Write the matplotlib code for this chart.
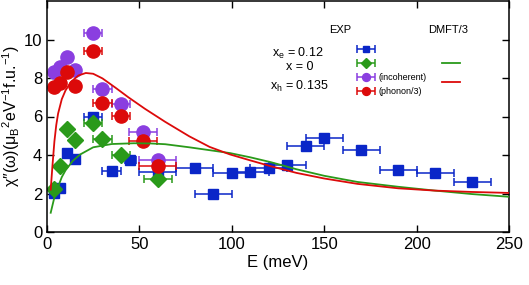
import matplotlib
matplotlib.use("Agg")
import matplotlib.pyplot as plt
import numpy as np
from matplotlib.legend_handler import HandlerErrorbar

plt.rcParams['font.family'] = ['Liberation Sans', 'DejaVu Sans']
plt.rcParams['mathtext.fontset'] = 'custom'
plt.rcParams['mathtext.rm'] = 'Liberation Sans'
plt.rcParams['mathtext.it'] = 'Liberation Sans:italic'

# EXP x_e = 0.12 (blue squares)
blue_x = [4, 7, 11, 15, 25, 35, 45, 60, 80, 90, 100, 110, 120, 130, 140, 150, 170, 190, 210, 230]
blue_y = [2.05, 2.3, 4.1, 3.8, 5.95, 3.15, 3.75, 3.1, 3.35, 2.0, 3.05, 3.1, 3.35, 3.5, 4.45, 4.9, 4.25, 3.2, 3.05, 2.62]
blue_xerr = [0, 0, 0, 0, 5, 5, 3, 10, 10, 10, 10, 10, 10, 10, 10, 10, 10, 10, 10, 10]

# EXP x = 0 (green diamonds)
green_x = [4, 7, 11, 15, 25, 30, 40, 60]
green_y = [2.25, 3.45, 5.35, 4.8, 5.65, 4.85, 4.0, 2.75]
green_xerr = [0, 0, 0, 0, 5, 5, 5, 7.5]

# EXP incoherent (purple circles)
purple_x = [4, 7, 11, 15, 25, 30, 40, 52, 60]
purple_y = [8.3, 8.55, 9.1, 8.4, 10.35, 7.45, 6.65, 5.2, 3.75]
purple_xerr = [0, 0, 0, 0, 5, 5, 5, 7.5, 10]

# EXP phonon/3 (red circles)
red_x = [4, 7, 11, 15, 25, 30, 40, 52, 60]
red_y = [7.55, 7.75, 8.3, 7.6, 9.4, 6.7, 6.05, 4.75, 3.45]
red_xerr = [0, 0, 0, 0, 5, 5, 5, 7.5, 10]

# DMFT/3 curves
dmft_red_x = [2, 3, 4, 5, 6, 8, 10, 13, 17, 21, 25, 30, 37, 44, 53, 64, 77, 88, 99, 110, 121, 135, 150, 168, 190, 210, 230, 250]
dmft_red_y = [2.2, 3.5, 4.7, 5.55, 6.15, 6.9, 7.35, 7.8, 8.13, 8.26, 8.22, 7.98, 7.5, 7.0, 6.4, 5.72, 4.97, 4.42, 4.03, 3.72, 3.42, 3.07, 2.78, 2.5, 2.27, 2.15, 2.08, 2.03]
dmft_green_x = [2, 4, 6, 8, 10, 14, 18, 25, 35, 47, 56, 64, 77, 88, 99, 110, 121, 135, 150, 168, 190, 210, 230, 250]
dmft_green_y = [1.0, 1.8, 2.35, 2.85, 3.2, 3.7, 4.03, 4.4, 4.57, 4.61, 4.6, 4.56, 4.4, 4.25, 4.1, 3.88, 3.63, 3.26, 2.92, 2.6, 2.35, 2.15, 1.97, 1.83]

C_BLUE = '#0a26c8'
C_GREEN = '#2a9a1a'
C_PURPLE = '#8a3ee0'
C_RED = '#dc0a0a'

fig = plt.figure(figsize=(5.29, 2.85), dpi=100)
ax = fig.add_axes([47/529, 1-232/285, (509-47)/529, 231/285])

kw = dict(linestyle='none', capsize=3, elinewidth=1.1, capthick=1.1)
eb_b = ax.errorbar(blue_x, blue_y, xerr=blue_xerr, fmt='s', color=C_BLUE, ms=7, **kw)
eb_g = ax.errorbar(green_x, green_y, xerr=green_xerr, fmt='D', color=C_GREEN, ms=8, **kw)
eb_p = ax.errorbar(purple_x, purple_y, xerr=purple_xerr, fmt='o', color=C_PURPLE, ms=9.5, **kw)
eb_r = ax.errorbar(red_x, red_y, xerr=red_xerr, fmt='o', color=C_RED, ms=9.5, **kw)

l_g, = ax.plot(dmft_green_x, dmft_green_y, color=C_GREEN, lw=1.3, zorder=5)
l_r, = ax.plot(dmft_red_x, dmft_red_y, color=C_RED, lw=1.3, zorder=5)

ax.set_xlim(0, 250)
ax.set_ylim(0, 12)
ax.set_xticks([0, 50, 100, 150, 200, 250])
ax.set_yticks([0, 2, 4, 6, 8, 10])
ax.tick_params(direction='in', top=True, right=True, labelsize=12, length=5, width=1)
for s in ax.spines.values():
    s.set_linewidth(1.1)

ax.set_xlabel('E (meV)', fontsize=12, labelpad=2)
ax.set_ylabel("χ\u2033(ω)(μ$_\\mathregular{B}$$^\\mathregular{2}$eV$^\\mathregular{-1}$f.u.$^\\mathregular{-1}$)",
              fontsize=11.5, labelpad=1)

# legends
leg1 = ax.legend([eb_b, eb_g, eb_p, eb_r], ['', '', '(incoherent)', '(phonon/3)'],
                 loc='upper left', bbox_to_anchor=((357-47)/462, 1-44/231), frameon=False,
                 fontsize=6.5, handlelength=1.9, labelspacing=0.55, handletextpad=0.5,
                 borderpad=0, borderaxespad=0, markerscale=0.6,
                 handler_map={type(eb_b): HandlerErrorbar(xerr_size=1.0, numpoints=1)})
ax.add_artist(leg1)
leg2 = ax.legend([l_g, l_r], ['', ''], loc='upper left',
                 bbox_to_anchor=((442-47)/462, 1-58/231), frameon=False,
                 fontsize=6.5, handlelength=2.0, labelspacing=1.1, handletextpad=0,
                 borderpad=0, borderaxespad=0)

ax.text((340-47)/462, 1-29/231, 'EXP', transform=ax.transAxes, fontsize=8, ha='center', va='center')
ax.text((448-47)/462, 1-29/231, 'DMFT/3', transform=ax.transAxes, fontsize=8, ha='center', va='center')
ax.text((272-47)/462, 1-52/231, r'x$_\mathregular{e}$ = 0.12', transform=ax.transAxes, fontsize=9, ha='left', va='center')
ax.text((300-47)/462, 1-66/231, 'x = 0', transform=ax.transAxes, fontsize=9, ha='center', va='center')
ax.text((270-47)/462, 1-85/231, r'x$_\mathregular{h}$ = 0.135', transform=ax.transAxes, fontsize=9, ha='left', va='center')

fig.savefig('out.png', dpi=100)
